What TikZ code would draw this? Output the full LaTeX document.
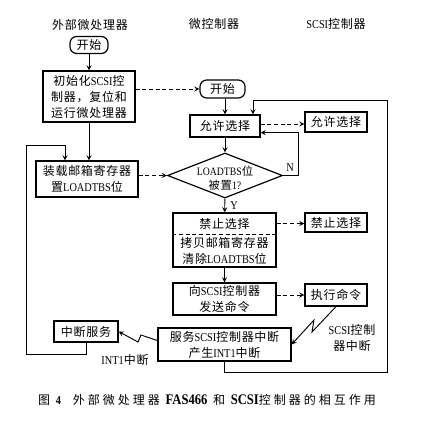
\documentclass[tikz,border=0pt]{standalone}
\usepackage{fontspec}
\setmainfont{Noto Sans CJK SC}[LetterSpace=6]
\newfontfamily\lat[FakeStretch=0.86]{Liberation Serif}
\usetikzlibrary{positioning}
\usetikzlibrary{arrows}
\usetikzlibrary{calc}
\usetikzlibrary{shapes.geometric}

\begin{document}
\begin{tikzpicture}[
    >=stealth,
    x=0.75pt, y=-0.75pt,
    every node/.style={font=\fontsize{9}{12}\selectfont, inner sep=0pt},
    box/.style={draw, line width=0.9pt, rectangle, align=center},
    term/.style={draw, line width=0.9pt, rounded corners=5pt},
    link/.style={line width=0.7pt},
    dlink/.style={line width=0.7pt, dash pattern=on 3pt off 2pt},
  ]

  \useasboundingbox (0,0) rectangle (427,423);

  % Column heads
  \node (hdA) at (90,25)  {外部微处理器};
  \node (hdB) at (214,24) {微控制器};
  \node (hdC) at (336,24) {{\lat SCSI}控制器};

  % External microprocessor
  \node[term, minimum width=28.5pt, minimum height=12.75pt] (startA) at (89,45) {开始};
  \node[box, minimum width=69pt, minimum height=38.25pt] (init) at (89,96.5)
    {初始化{\lat SCSI}控\\制器，复位和\\运行微处理器};
  \node[box, minimum width=76.5pt, minimum height=27pt] (load) at (87,179)
    {装载邮箱寄存器\\置{\lat LOADTBS}位};
  \node[box, minimum width=48pt, minimum height=15.75pt] (isr) at (86,331.5) {中断服务};

  % Microcontroller
  \node[term, minimum width=33.75pt, minimum height=13.5pt] (startB) at (222.5,89) {开始};
  \node[box, minimum width=52.5pt, minimum height=16.5pt] (allow) at (225,126) {允许选择};
  \node[diamond, draw, line width=0.9pt, minimum width=86.25pt, minimum height=33.75pt]
    (chk) at (225,175.5) {};
  \node[align=center, font=\fontsize{8.5}{10.5}\selectfont] (chkT) at (225,178)
    {{\lat LOADTBS}位\\被置{\lat 1?}};
  \node[box, minimum width=77.25pt, minimum height=40.5pt] (cpy) at (224.5,240) {};
  \draw[dlink] (cpy.west |- 0,234) -- (cpy.east |- 0,234);
  \node (forbidT) at (224.5,223.5) {禁止选择};
  \node[align=center] (copyT) at (224.5,251) {拷贝邮箱寄存器\\清除{\lat LOADTBS}位};
  \node[box, minimum width=77.25pt, minimum height=24pt] (send) at (224.5,299)
    {向{\lat SCSI}控制器\\发送命令};
  \node[box, minimum width=99.75pt, minimum height=24.75pt] (serve) at (224.5,344.5)
    {服务{\lat SCSI}控制器中断\\产生{\lat INT1}中断};

  % SCSI controller
  \node[box, minimum width=46.5pt, minimum height=15pt] (allowR) at (336,122) {允许选择};
  \node[box, minimum width=46.5pt, minimum height=14.25pt] (forbidR) at (336,222.5) {禁止选择};
  \node[box, minimum width=46.5pt, minimum height=16.5pt] (exec) at (336,295) {执行命令};

  % Labels
  \node (nlab) at (290,168) {\lat N};
  \node (ylab) at (234,206) {\lat Y};
  \node[align=center] (scsiint) at (352,338) {{\lat SCSI}控制\\器中断};
  \node (intlab) at (125,360) {{\lat INT1}中断};

  % Caption
  \node (cap) at (207,400) {\addfontfeatures{LetterSpace=25}图 {\lat\bfseries 4}\quad 外部微处理器
    {\fontsize{11}{12}\lat\bfseries FAS466} 和 {\fontsize{11}{12}\lat\bfseries SCSI}控制器的相互作用};

  % Solid flow
  \draw[link,->] (startA) -- (init);
  \draw[link,->] (init.south) -- (init.south |- load.north);
  \draw[link,->] (allow.north |- startB.south) -- (allow.north);
  \draw[link,->] (allow) -- (chk);
  \draw[link,->] (chk.east) -- ++(15,0) |- ($(allow.south east)+(0,-5)$);
  \draw[link,->] (chk) -- (cpy);
  \draw[link,->] (cpy) -- (send);

  % Dashed flow
  \draw[dlink,->] (init.east |- startB) -- (startB.west);
  \draw[dlink,->] (allow.east |- 0,124) -- (allowR.west |- 0,124);
  \draw[dlink,->] (load.east |- chk.west) -- (chk.west);
  \draw[dlink,->] (cpy.east |- forbidT) -- (forbidR.west |- forbidT);
  \draw[dlink,->] (send.east |- exec) -- (exec.west);

  % Return loops
  \coordinate (rbot) at (387,372);
  \coordinate (rtop) at (387,100);
  \draw[link,->] (serve.south) |- (rbot) -- (rtop) -| ($(allow.north)+(28,0)$);
  \coordinate (lbot) at (26,354);
  \coordinate (ltop) at (26,145);
  \draw[link,->] (isr.south) |- (lbot) -- (ltop) -| ($(load.north)+(-22,0)$);

  % Interrupts
  \draw[link,->] (exec.south) -- (312,332) -- (314,320) -- (serve.east);
  \draw[link,->] ($(serve.west)+(0,-4)$) -- (141,335) -- (138,342) -- (isr.east);

\end{tikzpicture}
\end{document}
